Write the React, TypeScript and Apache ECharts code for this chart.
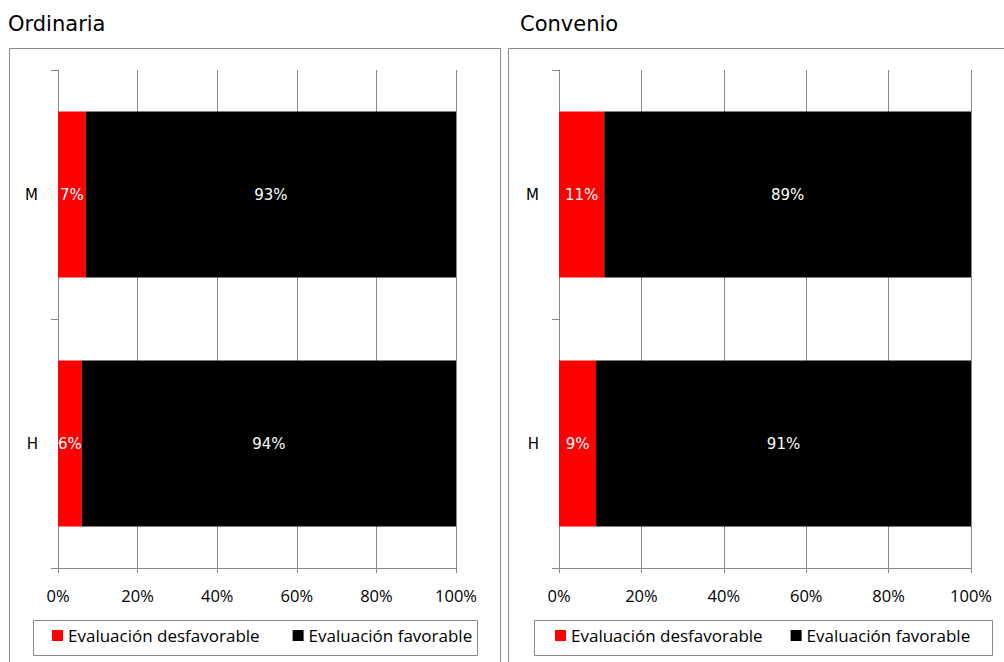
import React, { useEffect, useRef } from "react";
import * as echarts from "echarts";

const categories = ["H", "M"];
const seriesNames = ["Evaluación desfavorable", "Evaluación favorable"];
const ordinariaDesfavorable = [6, 7];
const ordinariaFavorable = [94, 93];
const convenioDesfavorable = [9, 11];
const convenioFavorable = [91, 89];
const xTicks = { min: 0, max: 100, interval: 20 };
const titles = ["Ordinaria", "Convenio"];

const GRAY = "#888888";
const LABEL_FONT = "'DejaVu Sans', Verdana, sans-serif";
const AXIS_FONT = "'Open Sans', 'Liberation Sans', sans-serif";

export default function App() {
  const ref = useRef<HTMLDivElement>(null);
  useEffect(() => {
    document.body.style.margin = "0";
    if (!ref.current) return;
    const chart = echarts.init(ref.current, undefined, { renderer: "svg" });
    const grids = [
      { left: 58, width: 398, top: 70, height: 498 },
      { left: 559, width: 412, top: 70, height: 498 },
    ];
    const xAxis = grids.map((_, i) => ({
      type: "value",
      gridIndex: i,
      min: xTicks.min,
      max: xTicks.max,
      interval: xTicks.interval,
      axisLine: { show: true, lineStyle: { color: GRAY, width: 1 } },
      axisTick: { show: true, length: 5, lineStyle: { color: GRAY } },
      splitLine: { show: true, lineStyle: { color: GRAY, width: 1 } },
      axisLabel: {
        formatter: "{value}%",
        color: "#000",
        fontFamily: AXIS_FONT,
        fontSize: 16.5,
        margin: 19,
      },
    }));
    const yAxis = grids.map((_, i) => ({
      type: "category",
      gridIndex: i,
      data: categories,
      axisLine: { show: true, lineStyle: { color: GRAY, width: 1 } },
      axisTick: { show: true, length: 7, alignWithLabel: false, lineStyle: { color: GRAY } },
      splitLine: { show: false },
      axisLabel: { color: "#000", fontFamily: LABEL_FONT, fontSize: 15, margin: 20 },
    }));
    const data = [
      [ordinariaDesfavorable, ordinariaFavorable],
      [convenioDesfavorable, convenioFavorable],
    ];
    const colors = ["#ff0000", "#000000"];
    const series: any[] = [];
    data.forEach((pair, gi) => {
      pair.forEach((vals, si) => {
        series.push({
          type: "bar",
          name: seriesNames[si],
          xAxisIndex: gi,
          yAxisIndex: gi,
          stack: "s" + gi,
          data: vals,
          barCategoryGap: "33.3%",
          itemStyle: { color: colors[si] },
          label: {
            show: true,
            position: "inside",
            formatter: "{c}%",
            color: "#fff",
            fontFamily: LABEL_FONT,
            fontSize: 15,
          },
        });
      });
    });
    const legendBase = {
      data: seriesNames,
      icon: "rect",
      itemWidth: 11,
      itemHeight: 11,
      orient: "horizontal",
      selectedMode: false,
      textStyle: { color: "#000", fontFamily: AXIS_FONT, fontSize: 17 },
      padding: 0,
    };
    chart.setOption({
      animation: false,
      backgroundColor: "#fff",
      grid: grids,
      xAxis,
      yAxis,
      series,
      legend: [
        { ...legendBase, left: 52, top: 627, itemGap: 33 },
        { ...legendBase, left: 555, top: 627, itemGap: 28 },
      ],
      graphic: [
        {
          type: "rect",
          shape: { x: 9.5, y: 48.5, width: 491, height: 640 },
          style: { fill: "none", stroke: GRAY, lineWidth: 1 },
          silent: true,
          z: -10,
        },
        {
          type: "rect",
          shape: { x: 508.5, y: 48.5, width: 520, height: 640 },
          style: { fill: "none", stroke: GRAY, lineWidth: 1 },
          silent: true,
          z: -10,
        },
        {
          type: "rect",
          shape: { x: 33.5, y: 620.5, width: 444, height: 35 },
          style: { fill: "none", stroke: GRAY, lineWidth: 1 },
          silent: true,
          z: -10,
        },
        {
          type: "rect",
          shape: { x: 534.5, y: 620.5, width: 458, height: 35 },
          style: { fill: "none", stroke: GRAY, lineWidth: 1 },
          silent: true,
          z: -10,
        },
        {
          type: "text",
          x: 8,
          y: 24,
          style: {
            text: titles[0],
            fill: "#000",
            font: "21px 'DejaVu Sans', Verdana, sans-serif",
            verticalAlign: "middle",
          },
        },
        {
          type: "text",
          x: 520,
          y: 24,
          style: {
            text: titles[1],
            fill: "#000",
            font: "21px 'DejaVu Sans', Verdana, sans-serif",
            verticalAlign: "middle",
          },
        },
      ],
    });
    return () => chart.dispose();
  }, []);
  return <div ref={ref} style={{ width: 1004, height: 662 }} />;
}
